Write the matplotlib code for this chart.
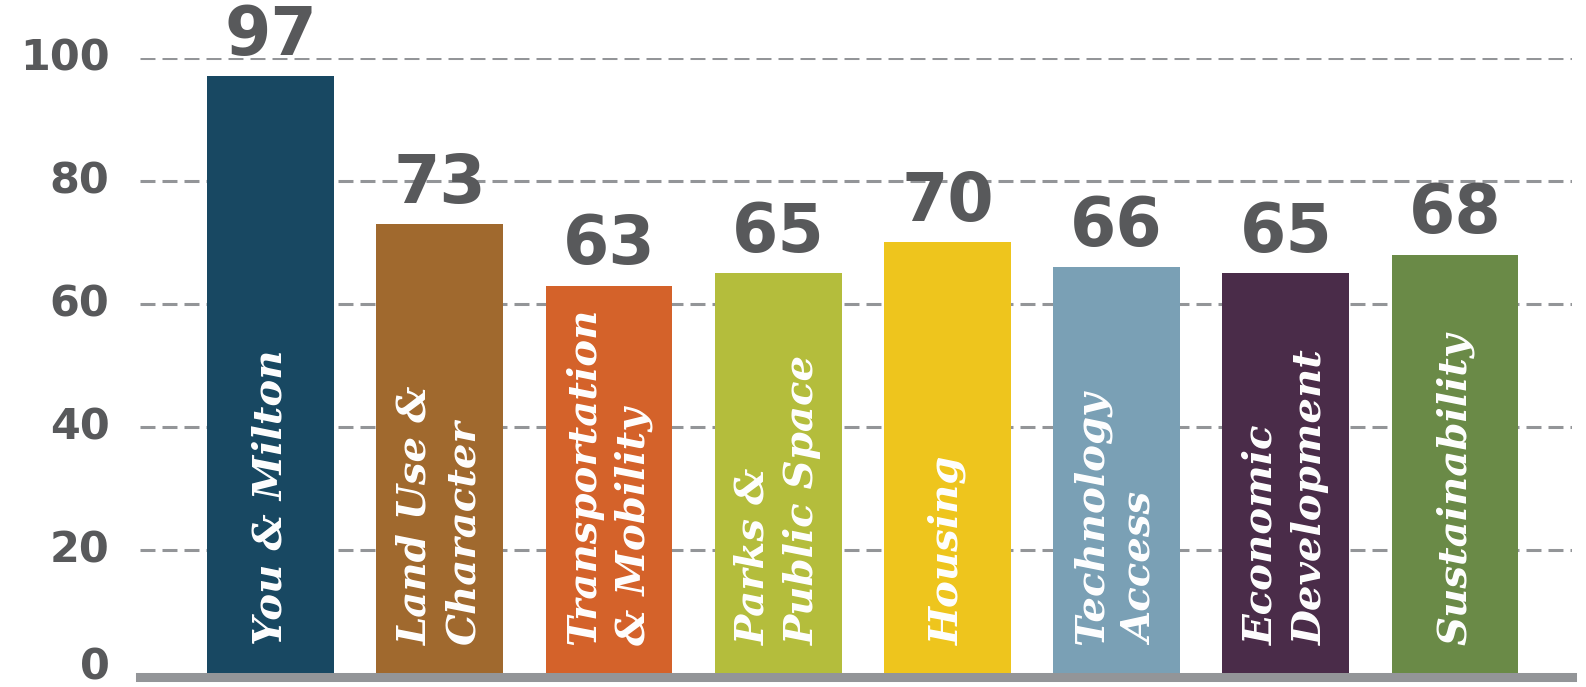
import matplotlib
matplotlib.use("Agg")
import matplotlib.pyplot as plt
from matplotlib.transforms import ScaledTranslation

# topic scores
categories = ["You & Milton", "Land Use &\nCharacter", "Transportation\n& Mobility",
              "Parks &\nPublic Space", "Housing", "Technology\nAccess",
              "Economic\nDevelopment", "Sustainability"]
scores = [97, 73, 63, 65, 70, 66, 65, 68]
bar_colors = ["#184862", "#a0692e", "#d4622a", "#b4bd3c",
              "#eec51d", "#7aa0b5", "#4a2c49", "#6a8a47"]
yticks = [0, 20, 40, 60, 80, 100]

grey = "#58595b"
line_grey = "#939598"

fig = plt.figure(figsize=(15.86, 6.87), dpi=100)
ax = fig.add_axes([0.0883, 0.0204, 0.9027, 0.8952])

x = list(range(len(scores)))
ax.bar(x, scores, width=0.75, color=bar_colors, zorder=3)

# score above each bar
for xi, v in zip(x, scores):
    ax.text(xi, v + 1.2, str(v), ha="center", va="bottom", fontsize=48,
            fontweight="bold", color=grey, clip_on=False, zorder=4)

# rotated names inside the bars
for xi, name in zip(x, categories):
    ax.text(xi, 4.6, name, rotation=90, rotation_mode="anchor",
            ha="left", va="center", multialignment="left",
            fontsize=29, fontweight="bold", fontstyle="italic",
            family="DejaVu Serif", color="white", linespacing=1.38,
            zorder=5)

ax.set_xlim(-0.772, len(scores) - 1 + 0.69)
ax.set_ylim(0, 100)
ax.set_yticks(yticks)
ax.set_yticklabels([str(t) for t in yticks])
ax.tick_params(axis="y", length=0, pad=22, labelsize=31, labelcolor=grey)
for t, lab in zip(yticks, ax.get_yticklabels()):
    lab.set_fontweight("bold")
    up = 7 if t == 0 else 3
    lab.set_transform(lab.get_transform() +
                      ScaledTranslation(0, up / 72, fig.dpi_scale_trans))
ax.set_xticks([])

for t in yticks[1:]:
    ax.axhline(t, color=line_grey, lw=2.2, linestyle=(0, (4.9, 2.3)), zorder=1)

for side in ["top", "right", "left"]:
    ax.spines[side].set_visible(False)
ax.spines["bottom"].set_color(line_grey)
ax.spines["bottom"].set_linewidth(6.5)
ax.spines["bottom"].set_position(("outward", 3.25))

fig.savefig("out.png", dpi=100, facecolor="white")
